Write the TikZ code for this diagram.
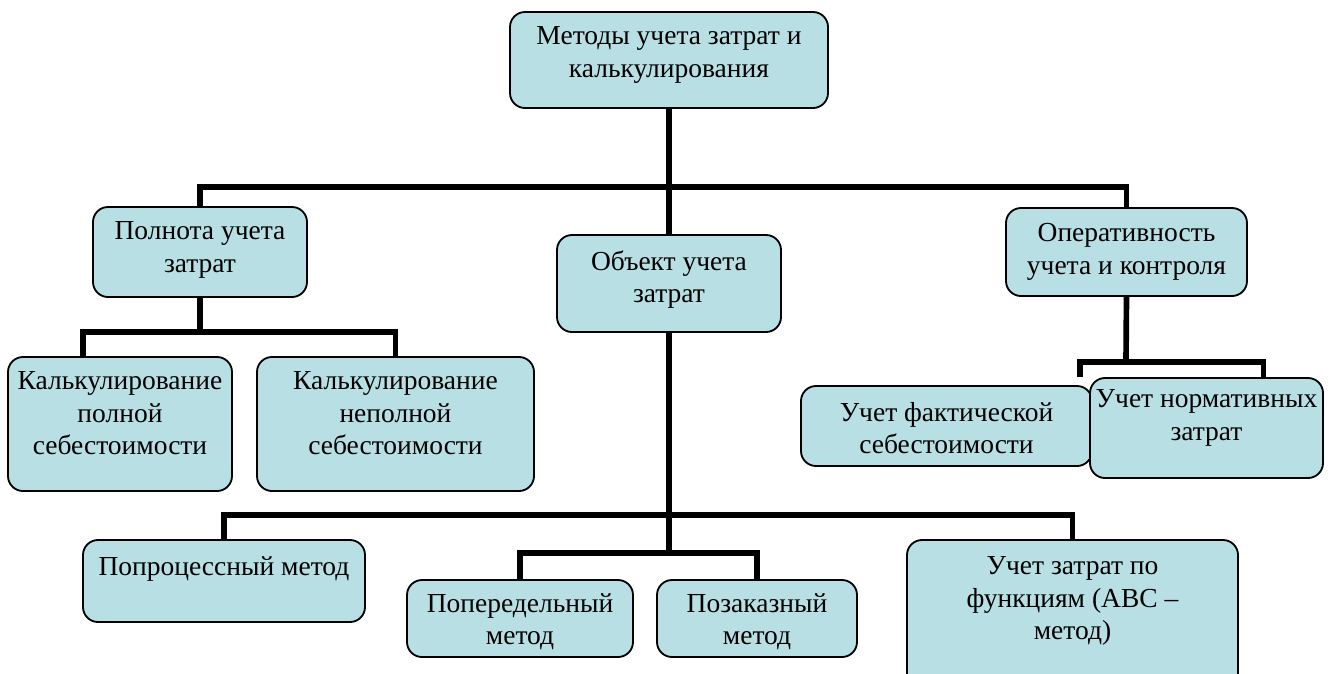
\documentclass[tikz,border=0pt]{standalone}
\usepackage{fontspec}
\setmainfont{Liberation Serif}
\usetikzlibrary{calc,fit}
\definecolor{boxfill}{RGB}{184,223,227}
\tikzset{
	box/.style={draw=black, line width=1.1pt, rounded corners=9pt, fill=boxfill, inner sep=0pt},
	txt/.style={inner sep=0pt, align=center, anchor=north, font=\fontsize{16.5}{19.6}\selectfont},
	conn/.style={line width=3.4pt}
}

\begin{document}
\begin{tikzpicture}[x=0.6pt, y=-0.6pt]
		%%%%% START %%%%%
		\clip (0,0) rectangle (1330,673);
		
		\node[box, fit={(510,12) (828,108)}] (top) {};
		\node[txt] (top-t) at ($(top.north)+(0,15)$) {Методы учета затрат и\\калькулирования};
		
		\node[box, fit={(93,207) (307,297)}] (polnota) {};
		\node[txt] (polnota-t) at ($(polnota.north)+(0,15)$) {Полнота учета\\затрат};
		
		\node[box, fit={(557,235) (781,332)}] (objekt) {};
		\node[txt] (objekt-t) at ($(objekt.north)+(0,16)$) {Объект учета\\затрат};
		
		\node[box, fit={(1006,208) (1247,296)}] (oper) {};
		\node[txt] (oper-t) at ($(oper.north)+(0,16)$) {Оперативность\\учета и контроля};
		
		\node[box, fit={(8,357) (232,491)}] (kpoln) {};
		\node[txt] (kpoln-t) at ($(kpoln.north)+(0,15)$) {Калькулирование\\полной\\себестоимости};
		
		\node[box, fit={(257,357) (534,491)}] (knepoln) {};
		\node[txt] (knepoln-t) at ($(knepoln.north)+(0,15)$) {Калькулирование\\неполной\\себестоимости};
		
		\node[box, fit={(801,386) (1092,466)}] (fakt) {};
		\node[txt, anchor=center] (fakt-t) at ($(fakt.center)+(0,2)$) {Учет фактической\\себестоимости};
		
		\node[box, fit={(1090,378) (1323,478)}] (norm) {};
		\node[txt] (norm-t) at ($(norm.north)+(0,12)$) {Учет нормативных\\затрат};
		
		\node[box, fit={(83,540) (365,622)}] (popr) {};
		\node[txt] (popr-t) at ($(popr.north)+(0,17)$) {Попроцессный метод};
		
		\node[box, fit={(407,580) (633,657)}] (popered) {};
		\node[txt] (popered-t) at ($(popered.north)+(0,14)$) {Попередельный\\метод};
		
		\node[box, fit={(657,580) (857,657)}] (pozakaz) {};
		\node[txt] (pozakaz-t) at ($(pozakaz.north)+(0,14)$) {Позаказный\\метод};
		
		\node[box, fit={(907,540) (1238,700)}] (abc) {};
		\node[txt] (abc-t) at ($(abc.north)+(0,17)$) {Учет затрат по\\функциям (АВС –\\метод)};
		
		% buses
		\coordinate (bus1) at (669,187);
		\coordinate (bus2) at (200,332);
		\coordinate (bus3) at (669,515);
		\coordinate (bus4) at (669,553);
		\coordinate (bus5) at (1126,362);
		\coordinate (stub5) at (1080,377);
		
		\draw[conn] (top.south) -- (objekt.north);
		\draw[conn] (polnota.north) |- (bus1) -| (oper.north);
		
		\draw[conn] (polnota.south) -- (bus2);
		\draw[conn] ($(kpoln.north)+(-37,0)$) |- (bus2) -| (knepoln.north);
		
		\draw[conn] (objekt.south) -- (bus4);
		\draw[conn] (popr.north) |- (bus3) -| (abc.north);
		\draw[conn] (popered.north) |- (bus4) -| (pozakaz.north);
		
		\draw[conn] (oper.south) -- (bus5);
		\draw[conn] (stub5) |- (bus5) -| ($(norm.north)+(57,0)$);
		%%%%% END %%%%%
\end{tikzpicture}
\end{document}
